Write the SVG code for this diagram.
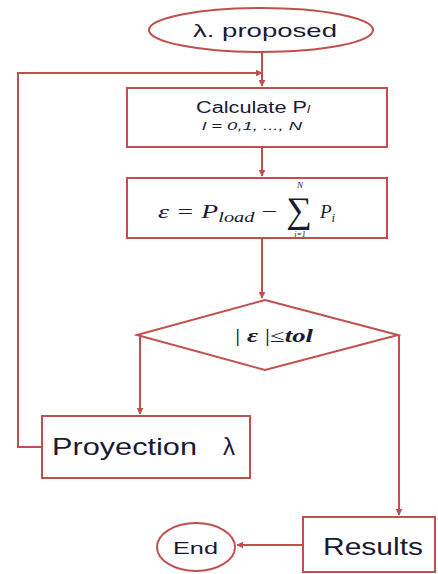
<svg xmlns="http://www.w3.org/2000/svg" width="438" height="574" viewBox="0 0 438 574">
<defs>
<marker id="ah" viewBox="0 0 10 10" refX="9" refY="5" markerWidth="7" markerHeight="7" orient="auto" markerUnits="userSpaceOnUse">
<path d="M0,0 L10,5 L0,10 z" fill="#c0504d"/>
</marker>
</defs>
<style>
.s{fill:#fff;stroke:#c0504d;stroke-width:2}
.c{fill:none;stroke:#c0504d;stroke-width:2}
.t{font-family:"Liberation Sans",Arial,sans-serif;fill:#1a1a33}
.m{font-family:"Liberation Serif","Times New Roman",serif;font-style:italic;fill:#1a1a33}
</style>
<rect width="438" height="574" fill="#fff"/>
<g id="connectors">
<line class="c" x1="262" y1="52" x2="262" y2="86" marker-end="url(#ah)"/>
<polyline class="c" points="42,447 18,447 18,73 262,73" marker-end="url(#ah)"/>
<line class="c" x1="262" y1="147" x2="262" y2="176" marker-end="url(#ah)"/>
<line class="c" x1="262" y1="238" x2="262" y2="298" marker-end="url(#ah)"/>
<line class="c" x1="140" y1="335" x2="140" y2="414" marker-end="url(#ah)"/>
<line class="c" x1="399" y1="335" x2="399" y2="515" marker-end="url(#ah)"/>
<line class="c" x1="303" y1="545" x2="237" y2="545" marker-end="url(#ah)"/>
</g>
<g id="start">
<ellipse class="s" cx="261" cy="30" rx="112" ry="22"/>
<text class="t" x="193" y="37" font-size="19" textLength="144" lengthAdjust="spacingAndGlyphs">λ. proposed</text>
</g>
<g id="calc">
<rect class="s" x="127" y="88" width="260" height="59"/>
<text class="t" x="196" y="113" font-size="16" textLength="114" lengthAdjust="spacingAndGlyphs">Calculate P<tspan font-size="10" font-style="italic">l</tspan></text>
<text class="t" x="202" y="130" font-size="10" font-style="italic" fill="#2a3a80" textLength="100" lengthAdjust="spacingAndGlyphs">l = 0,1, ..., N</text>
</g>
<g id="error">
<rect class="s" x="127" y="178" width="260" height="60"/>
<text class="m" x="158" y="218" font-size="19" textLength="119" lengthAdjust="spacingAndGlyphs">ε = P<tspan font-size="14" dy="4">load</tspan><tspan dy="-4" font-style="normal"> −</tspan></text>
<text class="m" x="299" y="222" font-size="36" font-style="normal" text-anchor="middle">∑</text>
<text class="m" x="300" y="188" font-size="9" text-anchor="middle">N</text>
<text class="m" x="300" y="237" font-size="8" text-anchor="middle">i=1</text>
<text class="m" x="320" y="218" font-size="19">P<tspan font-size="13" dy="4">i</tspan></text>
</g>
<g id="check">
<polygon class="s" points="265,300 398,335 265,370 137,335"/>
<text class="m" x="235" y="342" font-size="18" font-weight="bold" textLength="78" lengthAdjust="spacingAndGlyphs"><tspan font-style="normal" font-weight="normal">|</tspan> ε <tspan font-style="normal" font-weight="normal">|≤</tspan>tol</text>
</g>
<g id="proyection">
<rect class="s" x="42" y="416" width="208" height="62"/>
<text class="t" x="52" y="455" font-size="24" textLength="145" lengthAdjust="spacingAndGlyphs">Proyection</text>
<text class="t" x="223" y="455" font-size="24">λ</text>
</g>
<g id="results">
<rect class="s" x="303" y="517" width="132" height="55"/>
<text class="t" x="323" y="555" font-size="23" textLength="100" lengthAdjust="spacingAndGlyphs">Results</text>
</g>
<g id="end">
<ellipse class="s" cx="196" cy="547" rx="39" ry="24"/>
<text class="t" x="173" y="554" font-size="16" textLength="45" lengthAdjust="spacingAndGlyphs">End</text>
</g>
</svg>
